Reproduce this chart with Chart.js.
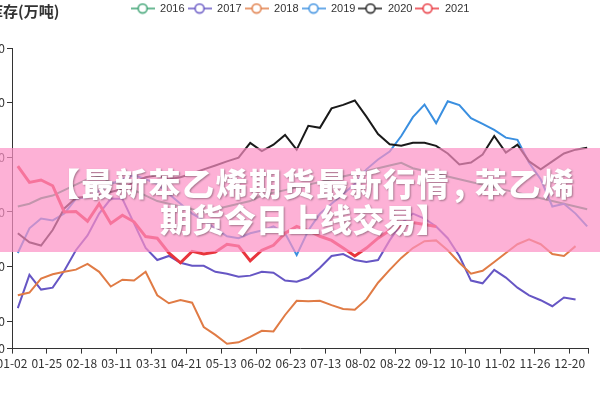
<!DOCTYPE html>
<html lang="zh">
<head>
<meta charset="UTF-8">
<title>苯乙烯库存(万吨)</title>
<style>
  body { margin: 0; background: #fff; }
  #wrap { position: relative; width: 600px; height: 400px; overflow: hidden; background: #fff;
          font-family: "Noto Sans CJK SC", "Noto Sans", sans-serif; }
  #box { position: absolute; left: -40px; top: 0; width: 640px; height: 400px; }
  #title { position: absolute; left: -42px; top: 0; font-size: 15px; font-weight: bold; color: #333; white-space: nowrap; }
  #banner { position: absolute; left: 0; top: 148px; width: 600px; height: 104px; background: rgba(252,144,196,0.7); }
  #banner div { position: absolute; white-space: nowrap; color: #fff; font-weight: 900; font-size: 32px; line-height: 34px;
                text-shadow: 1px 1px 2px rgba(0,0,0,0.35); }
  #banner span { padding: 0 8px 0 4px; }
</style>
</head>
<body>
<div id="wrap">
  <div id="box"><canvas id="chart" width="640" height="400"></canvas></div>
  <div id="title">华东库存(万吨)</div>
  <div id="banner">
    <div style="left:48px; top:17px; letter-spacing:1.5px;">【最新苯乙烯期货最新行情<span>,</span>苯乙烯</div>
    <div style="left:160px; top:53px;">期货今日上线交易】</div>
  </div>
</div>

<script src="https://cdn.jsdelivr.net/npm/chart.js"></script>
<script>
  // x axis labels (one every 3 weeks) and y ticks
  const dateLabels = ['01-02','01-25','02-18','03-11','03-31','04-21','05-13','06-02','06-23',
                      '07-13','08-02','08-22','09-12','10-10','11-02','11-26','12-20'];
  const yTicks = [10, 20, 40, 60, 80, 100, 120];
  const years = ['2016', '2017', '2018', '2019', '2020', '2021'];

  // weekly inventory
  const inv2016 = [62,63,65,66,68,70,72,73,71,70,68,66,64,63,62,61,60,61,62,63,64,66,67,68,69,
                   70,71,72,73,74,75,76,77,78,76,75,74,73,72,71,70,69,68,67,66,65,64,63,62,61];
  const inv2017 = [24.8,37.0,31.6,32.3,38.5,46.0,51.4,59.4,64.8,64.8,55.8,46.8,42.4,43.9,41.4,40.3,40.3,
                   38.1,37.4,36.3,36.7,38.1,37.8,34.9,34.5,35.9,39.6,43.9,44.6,42.4,41.7,42.4,49.6,55.8,
                   59.4,57.6,54.7,50.4,43.9,34.9,33.9,38.8,36.0,32.3,29.5,27.7,25.5,28.7,28.0,null];
  const inv2018 = [29.5,30.5,35.6,37.2,38.1,38.9,41.0,38.1,32.7,35.2,34.9,38.1,29.5,26.6,27.8,26.8,17.9,
                   15.0,11.8,12.3,14.3,16.5,16.3,22.3,27.5,27.3,27.5,25.9,24.5,24.2,28.0,34.1,38.8,43.2,
                   46.8,49.3,49.6,46.0,41.4,37.4,38.5,41.7,45.0,48.2,50.0,48.2,44.6,43.9,47.5,null];
  const inv2019 = [45.0,54.0,57.6,56.9,59.4,64.8,65.5,67.7,70.2,72.0,73.4,72.0,70.2,66.6,63.0,59.4,56.9,
                   54.0,51.1,50.4,52.2,53.2,54.7,52.2,44.2,53.2,59.4,63.0,66.6,70.2,75.6,79.2,82.1,87.8,
                   94.7,99.3,92.5,100.5,99.1,94.3,92.2,90.0,87.2,86.4,78.0,72.0,62.0,63.0,59.4,54.7];
  const inv2020 = [52.2,48.9,47.7,53.4,61.3,65.1,65.7,66.2,67.3,68.4,70.9,72.7,73.4,72.0,72.7,74.1,75.6,
                   77.0,78.5,79.9,85.3,82.3,84.6,88.2,82.8,91.5,90.8,97.9,99.2,100.8,94.9,88.5,84.8,84.2,
                   85.3,85.3,84.2,81.4,77.4,78.1,81.0,87.8,81.7,84.6,78.5,75.6,78.5,81.4,82.8,83.5];
  const inv2021 = [76.8,70.8,71.7,69.6,60.0,60.2,56.6,63.0,55.8,58.8,56.4,51.0,50.4,45.0,41.4,45.6,44.6,
                   45.3,48.2,47.5,42.1,46.0,47.8,52.2,54.7,53.2,51.1,49.6,46.8,43.9,46.8,50.4,53.2,54.7,
                   56.1,55.4,54.7];

  const series = [inv2016, inv2017, inv2018, inv2019, inv2020, inv2021];
  const colors = ['#3ba272', '#6656c4', '#e07b45', '#3a8fe0', '#1a1a1a', '#e8353d'];
  const widths = [2, 2, 2, 2, 2, 3];

  function legendIcon(color) {
    const c = document.createElement('canvas');
    c.width = 24; c.height = 12;
    const g = c.getContext('2d');
    g.strokeStyle = color; g.lineWidth = 1.5;
    g.beginPath(); g.moveTo(0, 6); g.lineTo(24, 6); g.stroke();
    g.beginPath(); g.arc(12, 6, 4.5, 0, Math.PI * 2);
    g.fillStyle = '#fff'; g.fill(); g.stroke();
    return c;
  }
  const icons = colors.map(legendIcon);

  const xMax = 49.57;

  new Chart(document.getElementById('chart'), {
    type: 'line',
    data: {
      datasets: series.map((vals, k) => ({
        label: years[k],
        data: vals.map((v, i) => ({ x: i + 0.5, y: v })),
        borderColor: colors[k],
        backgroundColor: colors[k],
        borderWidth: widths[k],
        pointRadius: 0,
        tension: 0,
        order: series.length - k
      }))
    },
    options: {
      animation: false,
      responsive: false,
      devicePixelRatio: 1,
      layout: { padding: { left: 0, right: 12, top: 0, bottom: 26 } },
      font: { family: '"Noto Sans CJK SC", "Noto Sans", sans-serif' },
      plugins: {
        tooltip: { enabled: false },
        legend: {
          fullSize: false,
          labels: {
            usePointStyle: true,
            pointStyleWidth: 24,
            boxHeight: 11,
            padding: 3,
            color: '#333',
            font: { size: 11 },
            sort: (a, b) => a.datasetIndex - b.datasetIndex,
            generateLabels: chart => {
              const items = Chart.defaults.plugins.legend.labels.generateLabels(chart);
              items.forEach(it => { it.pointStyle = icons[it.datasetIndex]; });
              return items;
            }
          }
        }
      },
      scales: {
        x: {
          type: 'linear', min: 0, max: xMax,
          afterBuildTicks: s => {
            s.ticks = dateLabels.map((t, k) => ({ value: k * 3 }));
            s.ticks.push({ value: xMax });
          },
          ticks: {
            autoSkip: false, maxRotation: 0, color: '#333', font: { size: 12 }, padding: 3,
            callback: (v, i) => dateLabels[i] || ''
          },
          grid: { drawOnChartArea: false, tickLength: 5, color: '#333' },
          border: { color: '#333' }
        },
        y: {
          min: 10, max: 120,
          afterBuildTicks: s => { s.ticks = yTicks.map(v => ({ value: v })); },
          afterFit: s => { s.width = 52; },
          ticks: { color: '#333', font: { size: 12 }, padding: 2 },
          grid: { drawOnChartArea: false, tickLength: 5, color: '#333' },
          border: { color: '#333' }
        }
      }
    },
    plugins: [{
      id: 'legendSpace',
      beforeInit(chart) {
        const fit = chart.legend.fit;
        chart.legend.fit = function () { fit.call(this); this.height += 24; };
      }
    }]
  });
</script>
</body>
</html>
